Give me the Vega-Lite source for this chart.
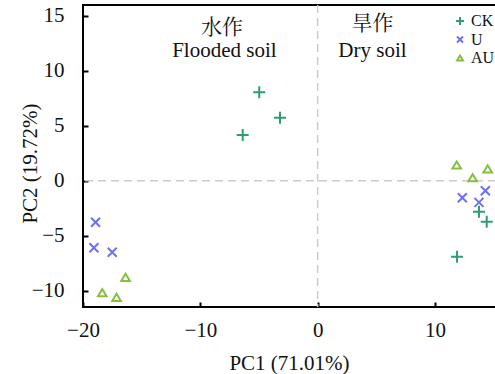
{
  "$schema": "https://vega.github.io/schema/vega-lite/v6.json",
  "width": 413,
  "height": 302,
  "autosize": {"type": "none"},
  "padding": {"left": 83, "top": 5, "right": 0, "bottom": 67},
  "background": "white",
  "config": {
    "view": {"stroke": "black", "strokeWidth": 2},
    "font": "Liberation Serif",
    "axis": {
      "grid": false,
      "domain": false,
      "ticks": true,
      "tickSize": -5,
      "tickColor": "black",
      "tickWidth": 2,
      "labelFlush": false,
      "labelOverlap": false,
      "labelFont": "Liberation Serif",
      "labelFontSize": 21,
      "labelColor": "#111",
      "titleFont": "Liberation Serif",
      "titleFontSize": 21,
      "titleFontWeight": "normal",
      "titleColor": "#111"
    },
    "axisX": {"labelPadding": 17, "titleX": 206, "titleY": 56, "titleBaseline": "middle", "titleAlign": "center"},
    "axisY": {"labelPadding": 24, "titleX": -53, "titleY": 158, "titleBaseline": "middle", "titleAlign": "center", "titleAngle": 270}
  },
  "layer": [
    {
      "data": {"values": [{"PC1": 0}]},
      "mark": {"type": "rule", "color": "#cccccc", "strokeDash": [8, 5], "strokeWidth": 1.5},
      "encoding": {
        "x": {"field": "PC1", "type": "quantitative", "title": "PC1 (71.01%)"}
      }
    },
    {
      "data": {"values": [{"PC2": 0}]},
      "mark": {"type": "rule", "color": "#cccccc", "strokeDash": [8, 5], "strokeWidth": 1.5},
      "encoding": {
        "y": {"field": "PC2", "type": "quantitative", "title": "PC2 (19.72%)"}
      }
    },
    {
      "data": {
        "values": [
          {"group": "CK", "PC1": -4.98, "PC2": 8.05},
          {"group": "CK", "PC1": -3.21, "PC2": 5.74},
          {"group": "CK", "PC1": -6.39, "PC2": 4.16},
          {"group": "CK", "PC1": 13.75, "PC2": -2.82},
          {"group": "CK", "PC1": 14.41, "PC2": -3.73},
          {"group": "CK", "PC1": 11.88, "PC2": -6.92},
          {"group": "U", "PC1": 12.33, "PC2": -1.55},
          {"group": "U", "PC1": 13.75, "PC2": -1.97},
          {"group": "U", "PC1": 14.29, "PC2": -0.91},
          {"group": "U", "PC1": -18.93, "PC2": -3.79},
          {"group": "U", "PC1": -19.07, "PC2": -6.10},
          {"group": "U", "PC1": -17.51, "PC2": -6.52},
          {"group": "AU", "PC1": -16.37, "PC2": -8.80},
          {"group": "AU", "PC1": -18.36, "PC2": -10.20},
          {"group": "AU", "PC1": -17.14, "PC2": -10.62},
          {"group": "AU", "PC1": 11.85, "PC2": 1.43},
          {"group": "AU", "PC1": 14.49, "PC2": 1.07},
          {"group": "AU", "PC1": 13.21, "PC2": 0.27}
        ]
      },
      "mark": {"type": "point", "filled": false, "strokeWidth": 2, "size": 144, "opacity": 1},
      "encoding": {
        "x": {
          "field": "PC1", "type": "quantitative", "title": "PC1 (71.01%)",
          "scale": {"domain": [-20, 15.2], "nice": false, "zero": false},
          "axis": {"values": [-20, -10, 0, 10]}
        },
        "y": {
          "field": "PC2", "type": "quantitative", "title": "PC2 (19.72%)",
          "scale": {"domain": [-11.5, 16], "nice": false, "zero": false},
          "axis": {"values": [-10, -5, 0, 5, 10, 15]}
        },
        "color": {
          "field": "group", "type": "nominal",
          "scale": {"domain": ["CK", "U", "AU"], "range": ["#2e9e70", "#6f6ff2", "#84bf3e"]},
          "legend": {
            "orient": "none", "legendX": 369, "legendY": 8, "title": null,
            "labelFont": "Liberation Serif", "labelFontSize": 16, "labelColor": "#111",
            "symbolSize": 64, "symbolStrokeWidth": 2, "rowPadding": 2.5, "labelOffset": 3
          }
        },
        "shape": {
          "field": "group", "type": "nominal",
          "scale": {"domain": ["CK", "U", "AU"], "range": ["M-1,0L1,0M0,-1L0,1", "M-0.75,-0.75L0.75,0.75M-0.75,0.75L0.75,-0.75", "M0,-0.6L0.72,0.6L-0.72,0.6Z"]}
        }
      }
    },
    {
      "data": {
        "values": [
          {"label": "水作", "PC1": -8.15, "PC2": 13.95, "lang": "zh"},
          {"label": "Flooded soil", "PC1": -7.95, "PC2": 11.8, "lang": "en"},
          {"label": "旱作", "PC1": 4.67, "PC2": 14.3, "lang": "zh"},
          {"label": "Dry soil", "PC1": 4.67, "PC2": 11.85, "lang": "en"}
        ]
      },
      "mark": {"type": "text", "font": "Liberation Serif, Noto Serif CJK SC, Noto Sans CJK SC", "fontSize": 21, "baseline": "middle", "align": "center", "color": "#111"},
      "encoding": {
        "x": {"field": "PC1", "type": "quantitative", "title": "PC1 (71.01%)"},
        "y": {"field": "PC2", "type": "quantitative", "title": "PC2 (19.72%)"},
        "text": {"field": "label"}
      }
    }
  ]
}
